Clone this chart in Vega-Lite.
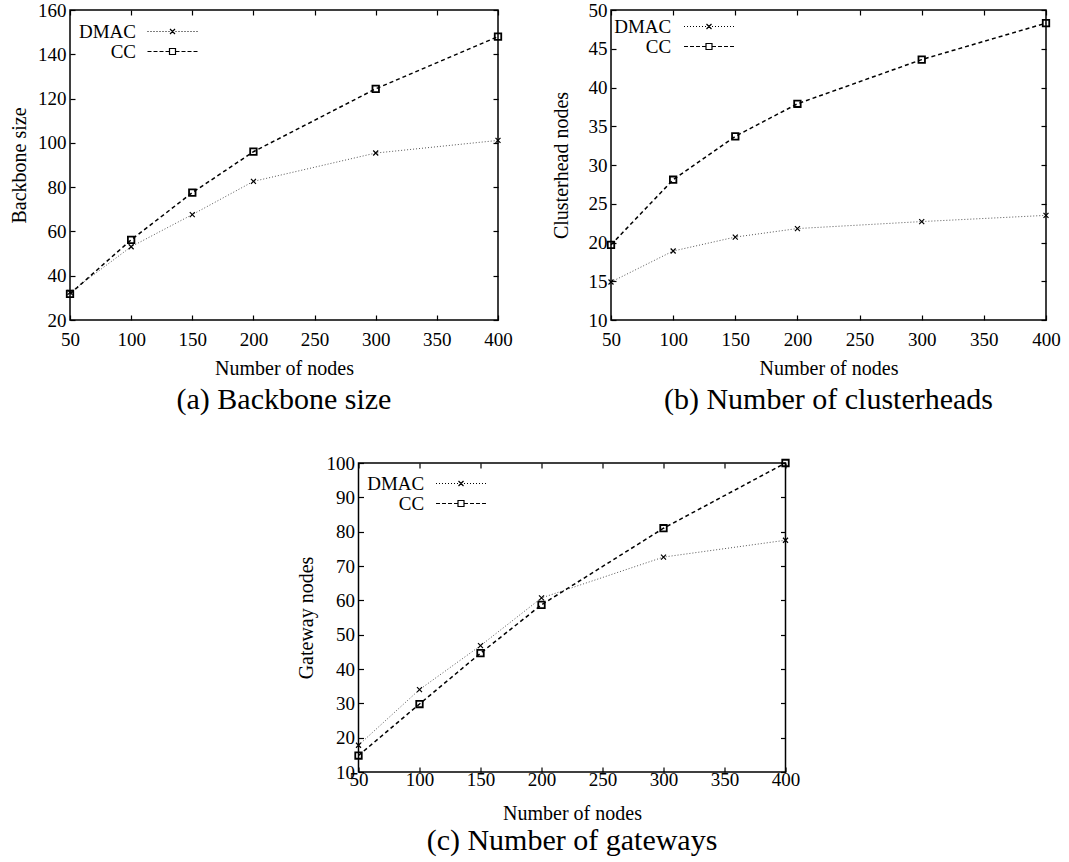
{
  "$schema": "https://vega.github.io/schema/vega-lite/v6.json",
  "padding": {"left": 8, "top": 0, "right": 0, "bottom": 0},
  "background": "white",
  "datasets": {
    "a": [
      {"nodes": 50, "series": "DMAC", "value": 32.5},
      {"nodes": 100, "series": "DMAC", "value": 53.1},
      {"nodes": 150, "series": "DMAC", "value": 67.6},
      {"nodes": 200, "series": "DMAC", "value": 82.6},
      {"nodes": 300, "series": "DMAC", "value": 95.4},
      {"nodes": 400, "series": "DMAC", "value": 101.1},
      {"nodes": 50, "series": "CC", "value": 31.8},
      {"nodes": 100, "series": "CC", "value": 56.2},
      {"nodes": 150, "series": "CC", "value": 77.5},
      {"nodes": 200, "series": "CC", "value": 96},
      {"nodes": 300, "series": "CC", "value": 124.4},
      {"nodes": 400, "series": "CC", "value": 148}
    ],
    "b": [
      {"nodes": 50, "series": "DMAC", "value": 14.9},
      {"nodes": 100, "series": "DMAC", "value": 18.9},
      {"nodes": 150, "series": "DMAC", "value": 20.7},
      {"nodes": 200, "series": "DMAC", "value": 21.8},
      {"nodes": 300, "series": "DMAC", "value": 22.7},
      {"nodes": 400, "series": "DMAC", "value": 23.5},
      {"nodes": 50, "series": "CC", "value": 19.7},
      {"nodes": 100, "series": "CC", "value": 28.1},
      {"nodes": 150, "series": "CC", "value": 33.7},
      {"nodes": 200, "series": "CC", "value": 37.9},
      {"nodes": 300, "series": "CC", "value": 43.6},
      {"nodes": 400, "series": "CC", "value": 48.3}
    ],
    "c": [
      {"nodes": 50, "series": "DMAC", "value": 17.8},
      {"nodes": 100, "series": "DMAC", "value": 34},
      {"nodes": 150, "series": "DMAC", "value": 46.8},
      {"nodes": 200, "series": "DMAC", "value": 60.7},
      {"nodes": 300, "series": "DMAC", "value": 72.6},
      {"nodes": 400, "series": "DMAC", "value": 77.5},
      {"nodes": 50, "series": "CC", "value": 14.8},
      {"nodes": 100, "series": "CC", "value": 29.8},
      {"nodes": 150, "series": "CC", "value": 44.6},
      {"nodes": 200, "series": "CC", "value": 58.7},
      {"nodes": 300, "series": "CC", "value": 81},
      {"nodes": 400, "series": "CC", "value": 100}
    ]
  },
  "vconcat": [
    {
      "hconcat": [
        {
          "width": 428, "height": 310,
          "data": {"name": "a"},
          "title": {"text": "(a) Backbone size"},
          "encoding": {
            "x": {"field": "nodes", "type": "quantitative", "scale": {"domain": [50, 400], "nice": false, "zero": false}, "axis": null},
            "y": {"field": "value", "type": "quantitative", "scale": {"domain": [20, 160], "nice": false, "zero": false}, "axis": null}
          },
          "layer": [
            {
              "transform": [{"filter": "datum.series === 'DMAC'"}],
              "mark": {"type": "line", "color": "#555555", "strokeWidth": 1, "strokeDash": [1, 2]},
              "encoding": {
                "x": {"field": "nodes", "type": "quantitative", "scale": {"domain": [50, 400], "nice": false, "zero": false}, "axis": {"orient": "bottom", "values": [50, 100, 150, 200, 250, 300, 350, 400], "title": "Number of nodes", "labelPadding": 15, "titlePadding": 9}},
                "y": {"field": "value", "type": "quantitative", "scale": {"domain": [20, 160], "nice": false, "zero": false}, "axis": {"orient": "left", "values": [20, 40, 60, 80, 100, 120, 140, 160], "title": "Backbone size", "labelPadding": 9, "titlePadding": 8}}
              }
            },
            {
              "transform": [{"filter": "datum.series === 'CC'"}],
              "mark": {"type": "line", "color": "black", "strokeWidth": 1.5, "strokeDash": [4, 3]}
            },
            {
              "transform": [{"filter": "datum.series === 'DMAC'"}],
              "mark": {"type": "point", "shape": "M-1,-1L1,1M-1,1L1,-1", "size": 25, "filled": false, "color": "black", "strokeWidth": 1.2, "opacity": 1}
            },
            {
              "transform": [{"filter": "datum.series === 'CC'"}],
              "mark": {"type": "point", "shape": "square", "size": 42, "filled": false, "color": "black", "strokeWidth": 1.8, "opacity": 1}
            },
            {
              "transform": [{"filter": "datum.nodes < 0"}],
              "mark": {"type": "point", "size": 4, "filled": false, "color": "black", "strokeWidth": 1.2},
              "encoding": {
                "shape": {"field": "series", "type": "nominal", "sort": ["DMAC", "CC"],
                  "scale": {"domain": ["DMAC", "CC"], "range": ["M-25,0h1M-22,0h1M-19,0h1M-16,0h1M-13,0h1M-10,0h1M-7,0h1M-4,0h1M3,0h1M6,0h1M9,0h1M12,0h1M15,0h1M18,0h1M21,0h1M24,0h1M-2.5,-2.5L2.5,2.5M-2.5,2.5L2.5,-2.5", "M-25,0h4M-19,0h4M-13,0h4M-7,0h4M3,0h4M9,0h4M15,0h4M21,0h4M-3,-3h6v6h-6z"]},
                  "legend": {"title": null, "orient": "top-left", "offset": 12, "labelOffset": -46, "symbolOffset": 81, "symbolOpacity": 1, "symbolStrokeColor": "black", "symbolSize": 4}
                }
              }
            },
            {
              "mark": {"type": "point", "opacity": 0, "size": 1},
              "encoding": {
                "x": {"field": "nodes", "type": "quantitative", "scale": {"domain": [50, 400], "nice": false, "zero": false}, "axis": {"orient": "top", "values": [50, 100, 150, 200, 250, 300, 350, 400], "labels": false, "title": null}},
                "y": {"field": "value", "type": "quantitative", "scale": {"domain": [20, 160], "nice": false, "zero": false}, "axis": {"orient": "right", "values": [20, 40, 60, 80, 100, 120, 140, 160], "labels": false, "title": null}}
              }
            }
          ],
          "resolve": {"axis": {"x": "independent", "y": "independent"}}
        },
        {
          "width": 435, "height": 310,
          "data": {"name": "b"},
          "title": {"text": "(b) Number of clusterheads"},
          "encoding": {
            "x": {"field": "nodes", "type": "quantitative", "scale": {"domain": [50, 400], "nice": false, "zero": false}, "axis": null},
            "y": {"field": "value", "type": "quantitative", "scale": {"domain": [10, 50], "nice": false, "zero": false}, "axis": null}
          },
          "layer": [
            {
              "transform": [{"filter": "datum.series === 'DMAC'"}],
              "mark": {"type": "line", "color": "#555555", "strokeWidth": 1, "strokeDash": [1, 2]},
              "encoding": {
                "x": {"field": "nodes", "type": "quantitative", "scale": {"domain": [50, 400], "nice": false, "zero": false}, "axis": {"orient": "bottom", "values": [50, 100, 150, 200, 250, 300, 350, 400], "title": "Number of nodes", "labelPadding": 15, "titlePadding": 9}},
                "y": {"field": "value", "type": "quantitative", "scale": {"domain": [10, 50], "nice": false, "zero": false}, "axis": {"orient": "left", "values": [10, 15, 20, 25, 30, 35, 40, 45, 50], "title": "Clusterhead nodes", "labelPadding": 9, "titlePadding": 17}}
              }
            },
            {
              "transform": [{"filter": "datum.series === 'CC'"}],
              "mark": {"type": "line", "color": "black", "strokeWidth": 1.5, "strokeDash": [4, 3]}
            },
            {
              "transform": [{"filter": "datum.series === 'DMAC'"}],
              "mark": {"type": "point", "shape": "M-1,-1L1,1M-1,1L1,-1", "size": 25, "filled": false, "color": "black", "strokeWidth": 1.2, "opacity": 1}
            },
            {
              "transform": [{"filter": "datum.series === 'CC'"}],
              "mark": {"type": "point", "shape": "square", "size": 42, "filled": false, "color": "black", "strokeWidth": 1.8, "opacity": 1}
            },
            {
              "transform": [{"filter": "datum.nodes < 0"}],
              "mark": {"type": "point", "size": 4, "filled": false, "color": "black", "strokeWidth": 1.2},
              "encoding": {
                "shape": {"field": "series", "type": "nominal", "sort": ["DMAC", "CC"],
                  "scale": {"domain": ["DMAC", "CC"], "range": ["M-25,0h1M-22,0h1M-19,0h1M-16,0h1M-13,0h1M-10,0h1M-7,0h1M-4,0h1M3,0h1M6,0h1M9,0h1M12,0h1M15,0h1M18,0h1M21,0h1M24,0h1M-2.5,-2.5L2.5,2.5M-2.5,2.5L2.5,-2.5", "M-25,0h4M-19,0h4M-13,0h4M-7,0h4M3,0h4M9,0h4M15,0h4M21,0h4M-3,-3h6v6h-6z"]},
                  "legend": {"title": null, "orient": "top-left", "offset": 7, "labelOffset": -47.3, "symbolOffset": 81.5, "symbolOpacity": 1, "symbolStrokeColor": "black", "symbolSize": 4}
                }
              }
            },
            {
              "mark": {"type": "point", "opacity": 0, "size": 1},
              "encoding": {
                "x": {"field": "nodes", "type": "quantitative", "scale": {"domain": [50, 400], "nice": false, "zero": false}, "axis": {"orient": "top", "values": [50, 100, 150, 200, 250, 300, 350, 400], "labels": false, "title": null}},
                "y": {"field": "value", "type": "quantitative", "scale": {"domain": [10, 50], "nice": false, "zero": false}, "axis": {"orient": "right", "values": [10, 15, 20, 25, 30, 35, 40, 45, 50], "labels": false, "title": null}}
              }
            }
          ],
          "resolve": {"axis": {"x": "independent", "y": "independent"}}
        }
      ],
      "spacing": 37,
      "resolve": {"scale": {"shape": "independent"}, "legend": {"shape": "independent"}}
    },
    {
      "hconcat": [
        {
          "width": 1, "height": 10,
          "view": {"stroke": null},
          "data": {"values": []},
          "mark": {"type": "point", "opacity": 0}
        },
        {
          "width": 427, "height": 309,
          "data": {"name": "c"},
          "title": {"text": "(c) Number of gateways", "offset": 3},
          "encoding": {
            "x": {"field": "nodes", "type": "quantitative", "scale": {"domain": [50, 400], "nice": false, "zero": false}, "axis": null},
            "y": {"field": "value", "type": "quantitative", "scale": {"domain": [10, 100], "nice": false, "zero": false}, "axis": null}
          },
          "layer": [
            {
              "transform": [{"filter": "datum.series === 'DMAC'"}],
              "mark": {"type": "line", "color": "#555555", "strokeWidth": 1, "strokeDash": [1, 2]},
              "encoding": {
                "x": {"field": "nodes", "type": "quantitative", "scale": {"domain": [50, 400], "nice": false, "zero": false}, "axis": {"orient": "bottom", "values": [50, 100, 150, 200, 250, 300, 350, 400], "title": "Number of nodes", "labelPadding": 3, "titlePadding": 14}},
                "y": {"field": "value", "type": "quantitative", "scale": {"domain": [10, 100], "nice": false, "zero": false}, "axis": {"orient": "left", "values": [10, 20, 30, 40, 50, 60, 70, 80, 90, 100], "title": "Gateway nodes", "labelPadding": 9, "titlePadding": 10}}
              }
            },
            {
              "transform": [{"filter": "datum.series === 'CC'"}],
              "mark": {"type": "line", "color": "black", "strokeWidth": 1.5, "strokeDash": [4, 3]}
            },
            {
              "transform": [{"filter": "datum.series === 'DMAC'"}],
              "mark": {"type": "point", "shape": "M-1,-1L1,1M-1,1L1,-1", "size": 25, "filled": false, "color": "black", "strokeWidth": 1.2, "opacity": 1}
            },
            {
              "transform": [{"filter": "datum.series === 'CC'"}],
              "mark": {"type": "point", "shape": "square", "size": 42, "filled": false, "color": "black", "strokeWidth": 1.8, "opacity": 1}
            },
            {
              "transform": [{"filter": "datum.nodes < 0"}],
              "mark": {"type": "point", "size": 4, "filled": false, "color": "black", "strokeWidth": 1.2},
              "encoding": {
                "shape": {"field": "series", "type": "nominal", "sort": ["DMAC", "CC"],
                  "scale": {"domain": ["DMAC", "CC"], "range": ["M-25,0h1M-22,0h1M-19,0h1M-16,0h1M-13,0h1M-10,0h1M-7,0h1M-4,0h1M3,0h1M6,0h1M9,0h1M12,0h1M15,0h1M18,0h1M21,0h1M24,0h1M-2.5,-2.5L2.5,2.5M-2.5,2.5L2.5,-2.5", "M-25,0h4M-19,0h4M-13,0h4M-7,0h4M3,0h4M9,0h4M15,0h4M21,0h4M-3,-3h6v6h-6z"]},
                  "legend": {"title": null, "orient": "top-left", "offset": 10.5, "labelOffset": -46.3, "symbolOffset": 82, "symbolOpacity": 1, "symbolStrokeColor": "black", "symbolSize": 4}
                }
              }
            },
            {
              "mark": {"type": "point", "opacity": 0, "size": 1},
              "encoding": {
                "x": {"field": "nodes", "type": "quantitative", "scale": {"domain": [50, 400], "nice": false, "zero": false}, "axis": {"orient": "top", "values": [50, 100, 150, 200, 250, 300, 350, 400], "labels": false, "title": null}},
                "y": {"field": "value", "type": "quantitative", "scale": {"domain": [10, 100], "nice": false, "zero": false}, "axis": {"orient": "right", "values": [10, 20, 30, 40, 50, 60, 70, 80, 90, 100], "labels": false, "title": null}}
              }
            }
          ],
          "resolve": {"axis": {"x": "independent", "y": "independent"}}
        }
      ],
      "spacing": -37,
      "resolve": {"scale": {"shape": "independent"}, "legend": {"shape": "independent"}}
    }
  ],
  "spacing": 37,
  "center": true,
  "resolve": {"scale": {"shape": "independent"}, "legend": {"shape": "independent"}},
  "config": {
    "view": {"stroke": "black", "strokeWidth": 1.5},
    "axis": {"domain": false, "grid": false, "ticks": true, "tickSize": -5, "tickColor": "black", "tickWidth": 1.2, "labelFont": "Liberation Serif", "labelFontSize": 19, "labelColor": "black", "titleFont": "Liberation Serif", "titleFontSize": 20, "titleFontWeight": "normal", "titleColor": "black", "labelFlush": false, "labelOverlap": false},
    "title": {"font": "Liberation Serif", "fontSize": 30, "fontWeight": "normal", "color": "black", "orient": "bottom", "anchor": "middle", "offset": 7},
    "legend": {"labelFont": "Liberation Serif", "labelFontSize": 19, "labelColor": "black", "labelAlign": "right", "symbolSize": 4, "symbolOpacity": 1, "symbolStrokeColor": "black", "symbolFillColor": "transparent", "symbolStrokeWidth": 1.2, "rowPadding": 0, "padding": 0}
  }
}
